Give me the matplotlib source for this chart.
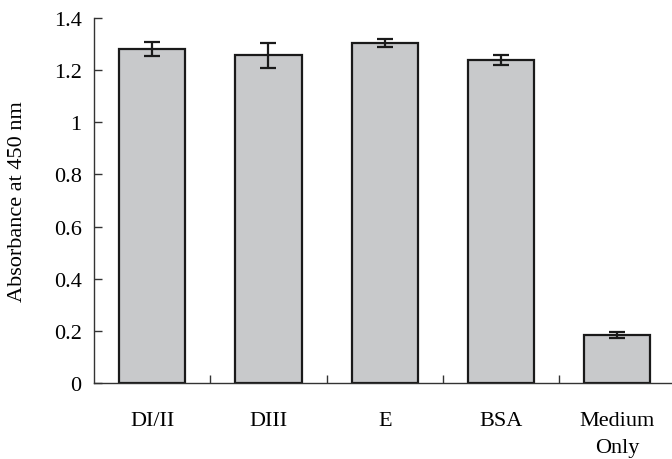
import numpy as np
import matplotlib.pyplot as plt

categories = ["DI/II", "DIII", "E", "BSA", "Medium\nOnly"]
absorbance = [1.28, 1.257, 1.305, 1.238, 0.184]
errors = [0.027, 0.048, 0.015, 0.02, 0.012]
yticks = [0, 0.2, 0.4, 0.6, 0.8, 1, 1.2, 1.4]

plt.rcParams["font.family"] = ["Liberation Serif", "DejaVu Serif"]
plt.rcParams["font.size"] = 16

fig = plt.figure(figsize=(6.72, 4.60), dpi=100)
ax = fig.add_axes([0.140, 0.165, 0.865, 0.794])

x = np.arange(len(categories))
ax.bar(x, absorbance, width=0.57, color="#c8c9cb", edgecolor="#1a1a1a",
       linewidth=1.6, zorder=2)
ax.errorbar(x, absorbance, yerr=errors, fmt="none", ecolor="#1a1a1a",
            elinewidth=1.6, capsize=6, capthick=1.6, zorder=3)

ax.set_xlim(-0.5, len(categories) - 0.5)
ax.set_ylim(0, 1.4)
ax.set_yticks(yticks)
ax.set_yticklabels([f"{t:g}" for t in yticks])
ax.set_xticks(x)
ax.set_xticklabels(categories, linespacing=1.6)
ax.set_xticks(x[:-1] + 0.5, minor=True)

ax.tick_params(axis="x", which="major", length=0, pad=20)
ax.tick_params(axis="x", which="minor", direction="in", length=6,
               width=1, color="#333333")
ax.tick_params(axis="y", direction="in", length=6, width=1,
               color="#333333", pad=9)

for side in ["top", "right"]:
    ax.spines[side].set_visible(False)
for side in ["left", "bottom"]:
    ax.spines[side].set_color("#333333")
    ax.spines[side].set_linewidth(1)

ax.set_ylabel("Absorbance at 450 nm", labelpad=19)

fig.savefig("out.png", dpi=100)
